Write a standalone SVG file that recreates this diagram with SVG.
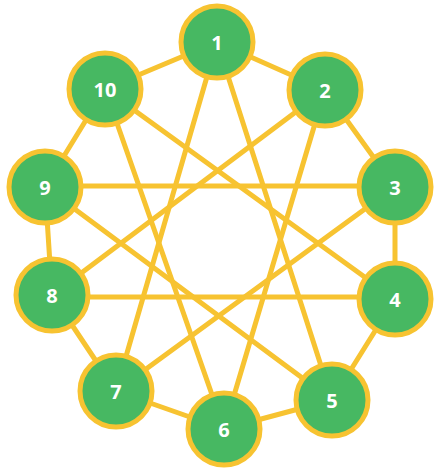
<svg xmlns="http://www.w3.org/2000/svg" width="436" height="472" viewBox="0 0 436 472">
<style>
.e{stroke:#f7c331;stroke-width:5;fill:none;stroke-linecap:round}
.n circle{fill:#47b862;stroke:#f7c331;stroke-width:5}
.n text{fill:#ffffff;font-family:"Open Sans","DejaVu Sans",sans-serif;font-weight:bold;font-size:20px;text-anchor:middle;dominant-baseline:central}
</style>
<rect width="436" height="472" fill="#ffffff"/>
<g id="edges" class="e">
<line x1="217" y1="42" x2="325" y2="90"/>
<line x1="325" y1="90" x2="395" y2="187"/>
<line x1="395" y1="187" x2="395" y2="299"/>
<line x1="395" y1="299" x2="332" y2="400"/>
<line x1="332" y1="400" x2="224" y2="429"/>
<line x1="224" y1="429" x2="116" y2="391"/>
<line x1="116" y1="391" x2="52" y2="295"/>
<line x1="52" y1="295" x2="45" y2="187"/>
<line x1="45" y1="187" x2="105" y2="89"/>
<line x1="105" y1="89" x2="217" y2="42"/>
<line x1="217" y1="42" x2="332" y2="400"/>
<line x1="325" y1="90" x2="224" y2="429"/>
<line x1="395" y1="187" x2="116" y2="391"/>
<line x1="395" y1="297" x2="52" y2="297"/>
<line x1="332" y1="400" x2="45" y2="187"/>
<line x1="224" y1="429" x2="105" y2="89"/>
<line x1="116" y1="391" x2="217" y2="42"/>
<line x1="52" y1="295" x2="325" y2="90"/>
<line x1="45" y1="186" x2="395" y2="186"/>
<line x1="105" y1="89" x2="395" y2="299"/>
</g>
<g id="n1" class="n"><circle cx="217" cy="42" r="36"/><text x="217" y="42">1</text></g>
<g id="n2" class="n"><circle cx="325" cy="90" r="36"/><text x="325" y="90">2</text></g>
<g id="n3" class="n"><circle cx="395" cy="187" r="36"/><text x="395" y="187">3</text></g>
<g id="n4" class="n"><circle cx="395" cy="299" r="36"/><text x="395" y="299">4</text></g>
<g id="n5" class="n"><circle cx="332" cy="400" r="36"/><text x="332" y="400">5</text></g>
<g id="n6" class="n"><circle cx="224" cy="429" r="36"/><text x="224" y="429">6</text></g>
<g id="n7" class="n"><circle cx="116" cy="391" r="36"/><text x="116" y="391">7</text></g>
<g id="n8" class="n"><circle cx="52" cy="295" r="36"/><text x="52" y="295">8</text></g>
<g id="n9" class="n"><circle cx="45" cy="187" r="36"/><text x="45" y="187">9</text></g>
<g id="n10" class="n"><circle cx="105" cy="89" r="36"/><text x="105" y="89">10</text></g>
</svg>
